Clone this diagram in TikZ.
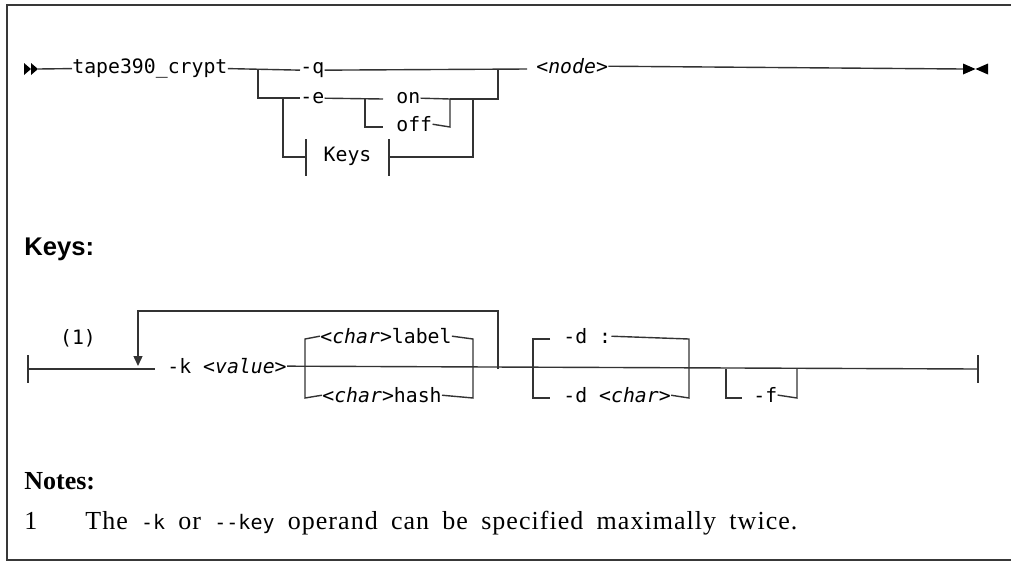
\documentclass[tikz,border=0pt]{standalone}
\usepackage{fontspec}
\setmainfont{Liberation Serif}
\setsansfont{Liberation Sans}
\setmonofont{DejaVu Sans Mono}
\usetikzlibrary{arrows.meta}
\begin{document}
\begin{tikzpicture}[x=0.5pt,y=-0.5pt,
  rr/.style={line width=0.7pt, draw=black!80},
  frame/.style={line width=1pt, draw=black!78},
  mono/.style={font=\ttfamily\fontsize{9.9}{12}\selectfont, inner sep=0pt, anchor=mid west},
  head/.style={font=\sffamily\bfseries\fontsize{12.8}{15}\selectfont, inner sep=0pt, anchor=base west},
  nhead/.style={font=\rmfamily\bfseries\fontsize{13}{15}\selectfont, inner sep=0pt, anchor=base west},
  ntext/.style={font=\rmfamily\fontsize{13}{15}\selectfont, inner sep=0pt, anchor=base west},
  loopar/.style={rr, -{Triangle[width=4.5pt,length=5pt]}}]
\useasboundingbox (0,0) rectangle (1011,563);
% frame
\draw[frame] (1011,5) -- (7,5) -- (7,560) -- (1011,560);

% ===== main diagram =====
\fill[black] (24,63) -- (31,69) -- (24,75) -- cycle;
\fill[black] (31,63) -- (38,69) -- (31,75) -- cycle;
\coordinate (st) at (38,69);
\fill[black] (963,63.5) -- (975.5,69) -- (963,74.5) -- cycle;
\fill[black] (988,63.5) -- (975.5,69) -- (988,74.5) -- cycle;
\coordinate (en) at (963,69);

\node[mono] (cmd) at (72,69) {tape390\_crypt};
\node[mono] (q) at (300,69) {-q};
\node[mono] (e) at (300,99) {-e};
\node[mono] (on) at (396,99) {on};
\node[mono] (off) at (396,127) {off};
\node[mono, anchor=mid] (keys) at (347.5,157) {Keys};
\node[mono] (nd) at (536,69) {\itshape <node>};

\coordinate (a1) at (258,69);
\coordinate (b1) at (283,99);
\coordinate (c1) at (365,99);
\coordinate (c3) at (383,99);
\coordinate (c4) at (383,127);
\coordinate (d2) at (450,127);
\coordinate (d1) at (450,99);
\coordinate (f1) at (473,99);
\coordinate (g1) at (498,69);
\coordinate (g2) at (498,99);
\coordinate (kl) at (306,157);
\coordinate (kr) at (389,157);
\coordinate (kl1) at (306,139);
\coordinate (kl2) at (306,176);
\coordinate (kr1) at (389,139);
\coordinate (kr2) at (389,176);
\coordinate (qn) at (527,69);

\draw[rr] (st) -- (cmd.west);
\draw[rr] (cmd.east) -- (q.west);
\draw[rr] (q.east) -- (qn);
\draw[rr] (nd.east) -- (en);
\draw[rr] (a1) |- (e.west);
\draw[rr] (e.east) -- (c3);
\draw[rr] (c1) |- (c4);
\draw[rr] (on.east) -- (d1) -- (d2) -- (off.east);
\draw[rr] (d1) -- (g2) -- (g1);
\draw[rr] (b1) |- (kl);
\draw[rr] (kr) -| (f1);
\draw[rr] (kl1) -- (kl2);
\draw[rr] (kr1) -- (kr2);

% ===== Keys fragment =====
\node[head] (kh) at (24,255) {Keys:};
\coordinate (ks) at (28,369);
\coordinate (ke) at (978,369);
\coordinate (ks1) at (28,355);
\coordinate (ks2) at (28,383);
\coordinate (ke1) at (978,355);
\coordinate (ke2) at (978,383);
\draw[rr] (ks1) -- (ks2);
\draw[rr] (ke1) -- (ke2);
\node[mono, anchor=mid] (n1) at (78,340) {(1)};
\node[mono] (kv) at (167,369) {-k \itshape<value>};
\coordinate (lp) at (155,369);
\draw[rr] (ks) -- (lp);
\draw[rr] (kv.east) -- (ke);
% repeat loop
\coordinate (r1) at (498,369);
\coordinate (r2) at (498,311);
\coordinate (r3) at (138,311);
\coordinate (r4) at (138,366);
\draw[loopar] (r1) -- (r2) -- (r3) -- (r4);
% label / hash
\node[mono] (lab) at (320,339) {\textit{<char>}label};
\node[mono] (hash) at (322,398) {\textit{<char>}hash};
\coordinate (h1) at (305,339);
\coordinate (h2) at (305,398);
\coordinate (h3) at (473,339);
\coordinate (h4) at (473,398);
\draw[rr] (lab.west) -- (h1) -- (h2) -- (hash.west);
\draw[rr] (lab.east) -- (h3) -- (h4) -- (hash.east);
% -d
\node[mono] (dc) at (563,339) {-d :};
\node[mono] (dch) at (563,398) {-d \textit{<char>}};
\coordinate (dl1) at (550,339);
\coordinate (dl2) at (550,398);
\coordinate (dd1) at (533,339);
\coordinate (dd2) at (533,398);
\coordinate (dr1) at (689,339);
\coordinate (dr2) at (689,398);
\draw[rr] (dl1) -- (dd1) -- (dd2) -- (dl2);
\draw[rr] (dc.east) -- (dr1) -- (dr2) -- (dch.east);
% -f
\node[mono] (ff) at (753,398) {-f};
\coordinate (fl1) at (726,369);
\coordinate (fl2) at (726,398);
\coordinate (fl3) at (742,398);
\coordinate (fr1) at (797,398);
\coordinate (fr2) at (797,369);
\draw[rr] (fl1) -- (fl2) -- (fl3);
\draw[rr] (ff.east) -- (fr1) -- (fr2);

% ===== Notes =====
\node[nhead] (nh) at (24,489) {Notes:};
\node[ntext] (num) at (24,529) {1};
\node[ntext] (note) at (85,529) {\addfontfeature{LetterSpace=4}\makebox[356pt][s]{The {\ttfamily\fontsize{10}{12}\selectfont -k} or {\ttfamily\fontsize{10}{12}\selectfont -{}-key} operand can be specified maximally twice.}};
\end{tikzpicture}
\end{document}
